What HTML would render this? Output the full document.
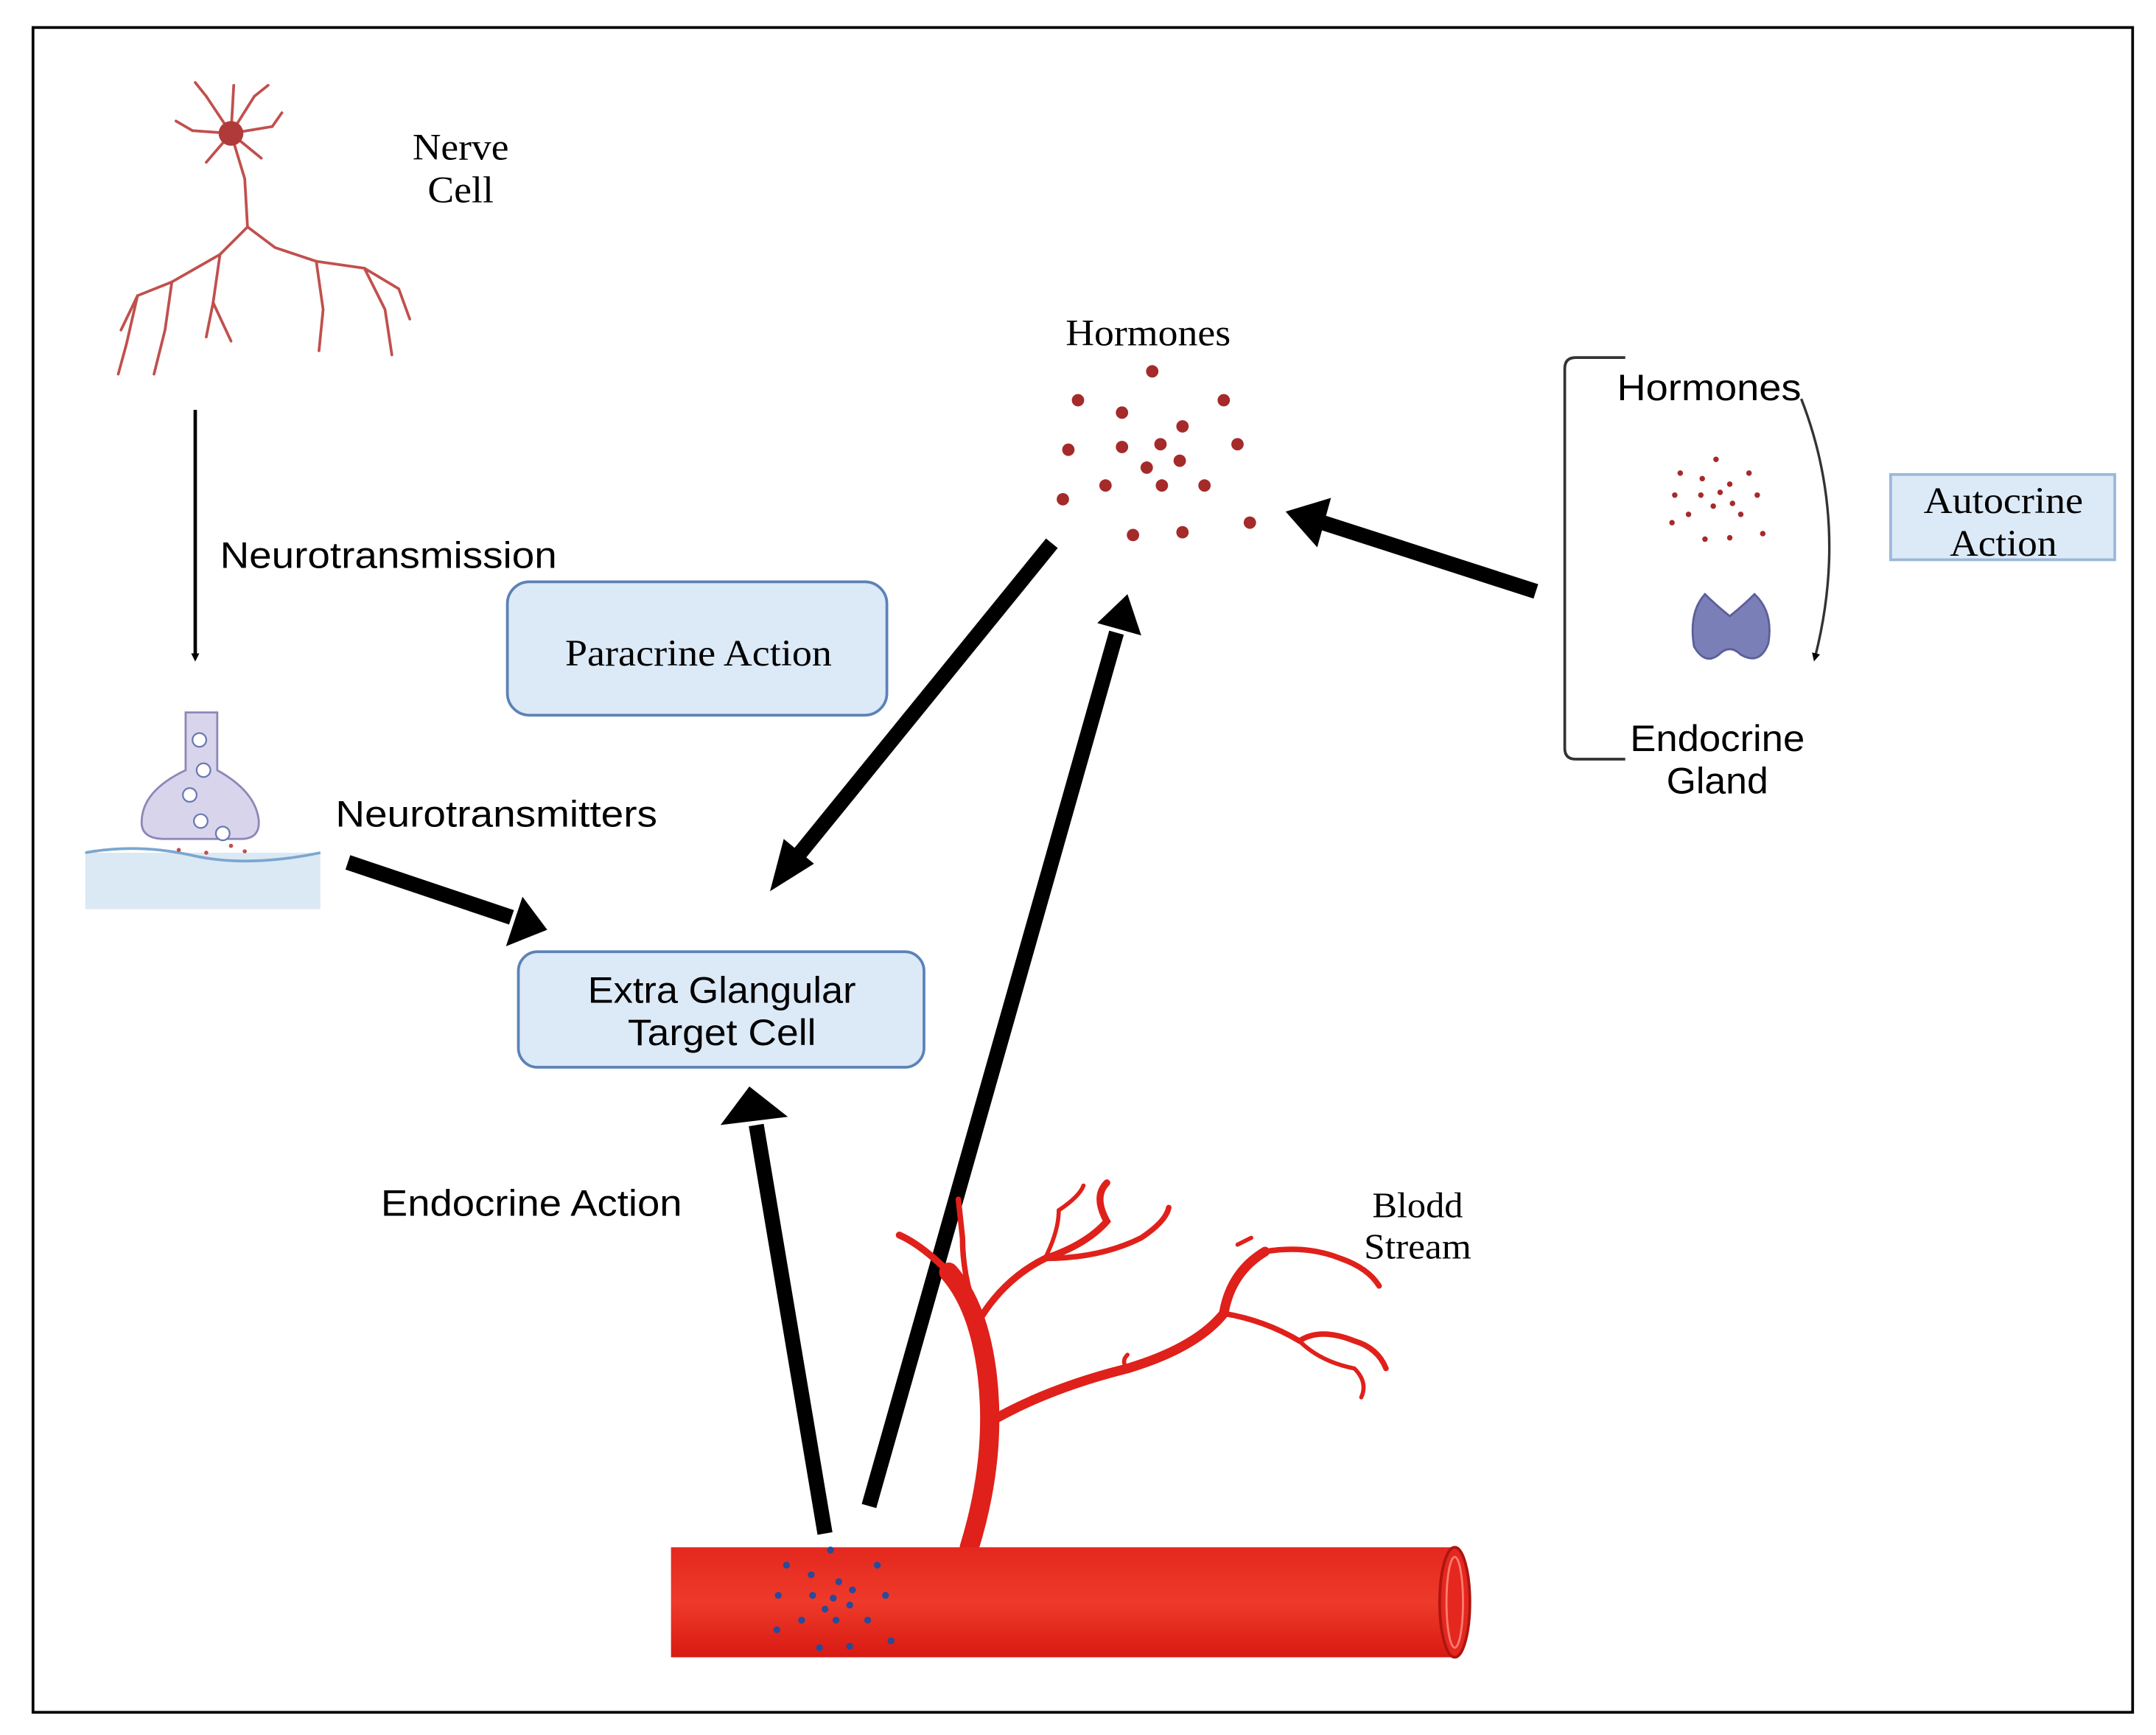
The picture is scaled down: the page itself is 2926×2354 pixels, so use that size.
<!DOCTYPE html>
<html><head><meta charset="utf-8"><style>
html,body{margin:0;padding:0;background:#fff;}
svg{display:block;}
.s{font-family:"Liberation Sans",sans-serif;}
.r{font-family:"Liberation Serif",serif;}
</style></head><body>
<svg width="2926" height="2354" viewBox="0 0 1568 1261.5" preserveAspectRatio="none" xmlns="http://www.w3.org/2000/svg">
<defs>
<marker id="th" markerWidth="6" markerHeight="6" refX="3" refY="3" orient="auto" markerUnits="userSpaceOnUse" viewBox="0 0 6 6"><path d="M0,0 L6,3 L0,6 z" fill="#000"/></marker>
<linearGradient id="vg" x1="0" y1="0" x2="0" y2="1"><stop offset="0" stop-color="#e4281f"/><stop offset="0.5" stop-color="#ee3a2a"/><stop offset="1" stop-color="#d81a12"/></linearGradient>
</defs>
<rect x="24" y="20" width="1527" height="1225" fill="#fff" stroke="#000" stroke-width="2"/>

<!-- Nerve cell -->
<g stroke="#c0504d" fill="none" stroke-width="2" stroke-linecap="round">
<path d="M168,97 L178,130 L180,165 L160,185 L125,205 L100,215 L88,240"/>
<path d="M180,165 L200,180 L230,190 L265,195 L290,210 L298,232"/>
<path d="M160,185 L155,220 L150,245"/>
<path d="M230,190 L235,225 L232,255"/>
<path d="M125,205 L120,240 L112,272"/>
<path d="M265,195 L280,225 L285,258"/>
<path d="M100,215 L92,250 L86,272"/>
<path d="M155,220 L168,248"/>
<path d="M168,97 L150,70 M168,97 L185,70 M168,97 L140,95 M168,97 L198,92 M168,97 L150,118 M168,97 L190,115 M168,97 L170,62"/>
<path d="M150,70 L142,60 M185,70 L195,62 M140,95 L128,88 M198,92 L205,82"/>
</g>
<circle cx="168" cy="97" r="9" fill="#b03a3a"/>
<text x="335" y="116" class="r" font-size="27" text-anchor="middle" textLength="70" lengthAdjust="spacingAndGlyphs">Nerve</text>
<text x="335" y="147" class="r" font-size="27" text-anchor="middle" textLength="48" lengthAdjust="spacingAndGlyphs">Cell</text>

<line x1="142" y1="298" x2="142" y2="478" stroke="#000" stroke-width="2.5" marker-end="url(#th)"/>
<text x="160" y="413" class="s" font-size="27" textLength="245" lengthAdjust="spacingAndGlyphs">Neurotransmission</text>

<!-- synapse -->
<rect x="62" y="620" width="171" height="41" fill="#dbe9f5"/>
<path d="M62,620 Q100,613 140,622 T233,620" stroke="#7aa7d0" stroke-width="2" fill="none"/>
<path d="M135,518 L135,560 Q103,575 103,598 Q103,610 120,610 L175,610 Q190,610 188,595 Q185,575 158,560 L158,518 Z" fill="#d7d4ec" stroke="#8c88b8" stroke-width="1.5"/>
<g fill="#fff" stroke="#6a78b0" stroke-width="1.2"><circle cx="145" cy="538" r="5"/><circle cx="148" cy="560" r="5"/><circle cx="138" cy="578" r="5"/><circle cx="146" cy="597" r="5"/><circle cx="162" cy="606" r="5"/></g>
<g fill="#c0504d"><circle cx="130" cy="618" r="1.5"/><circle cx="150" cy="620" r="1.5"/><circle cx="168" cy="615" r="1.5"/><circle cx="178" cy="619" r="1.5"/></g>

<text x="244" y="601" class="s" font-size="27" textLength="234" lengthAdjust="spacingAndGlyphs">Neurotransmitters</text>

<rect x="369" y="423" width="276" height="97" rx="16" fill="#dce9f7" stroke="#5b82b6" stroke-width="2"/>
<text x="508" y="484" class="r" font-size="27" text-anchor="middle" textLength="194" lengthAdjust="spacingAndGlyphs">Paracrine Action</text>

<rect x="377" y="692" width="295" height="84" rx="14" fill="#dce9f7" stroke="#5b82b6" stroke-width="2"/>
<text x="525" y="729" class="s" font-size="27" text-anchor="middle" textLength="195" lengthAdjust="spacingAndGlyphs">Extra Glangular</text>
<text x="525" y="760" class="s" font-size="27" text-anchor="middle" textLength="137" lengthAdjust="spacingAndGlyphs">Target Cell</text>

<!-- Thick arrows -->
<g fill="#000">
<line x1="253" y1="627" x2="372" y2="667" stroke="#000" stroke-width="11"/>
<polygon points="398,676 368,688 380,652"/>
<line x1="765" y1="395" x2="578" y2="625" stroke="#000" stroke-width="11"/>
<polygon points="560,648 570,610 592,628"/>
<line x1="632" y1="1095" x2="812" y2="460" stroke="#000" stroke-width="11"/>
<polygon points="820,432 830,462 798,453"/>
<line x1="600" y1="1115" x2="550" y2="818" stroke="#000" stroke-width="11"/>
<polygon points="545,790 573,812 524,818"/>
<line x1="1117" y1="430" x2="962" y2="380" stroke="#000" stroke-width="11"/>
<polygon points="935,372 968,362 958,398"/>
</g>

<text x="835" y="251" class="r" font-size="27" text-anchor="middle" textLength="120" lengthAdjust="spacingAndGlyphs">Hormones</text>
<g fill="#a52a2a">
<circle cx="838" cy="270" r="4.5"/><circle cx="784" cy="291" r="4.5"/><circle cx="816" cy="300" r="4.5"/><circle cx="890" cy="291" r="4.5"/><circle cx="860" cy="310" r="4.5"/><circle cx="777" cy="327" r="4.5"/><circle cx="816" cy="325" r="4.5"/><circle cx="844" cy="323" r="4.5"/><circle cx="900" cy="323" r="4.5"/><circle cx="834" cy="340" r="4.5"/><circle cx="858" cy="335" r="4.5"/><circle cx="804" cy="353" r="4.5"/><circle cx="845" cy="353" r="4.5"/><circle cx="876" cy="353" r="4.5"/><circle cx="773" cy="363" r="4.5"/><circle cx="824" cy="389" r="4.5"/><circle cx="860" cy="387" r="4.5"/><circle cx="909" cy="380" r="4.5"/>
</g>

<!-- Bracket & gland -->
<path d="M1182,260 L1146,260 Q1138,260 1138,268 L1138,544 Q1138,552 1146,552 L1182,552" fill="none" stroke="#333" stroke-width="2"/>
<text x="1243" y="291" class="s" font-size="27" text-anchor="middle" textLength="134" lengthAdjust="spacingAndGlyphs">Hormones</text>
<g fill="#a52a2a">
<circle cx="1248" cy="334" r="2"/><circle cx="1222" cy="344" r="2"/><circle cx="1238" cy="348" r="2"/><circle cx="1272" cy="344" r="2"/><circle cx="1258" cy="352" r="2"/><circle cx="1218" cy="360" r="2"/><circle cx="1237" cy="360" r="2"/><circle cx="1251" cy="358" r="2"/><circle cx="1278" cy="360" r="2"/><circle cx="1246" cy="368" r="2"/><circle cx="1260" cy="366" r="2"/><circle cx="1228" cy="374" r="2"/><circle cx="1266" cy="374" r="2"/><circle cx="1216" cy="380" r="2"/><circle cx="1240" cy="392" r="2"/><circle cx="1258" cy="391" r="2"/><circle cx="1282" cy="388" r="2"/>
</g>
<path d="M1240,432 Q1228,445 1232,470 Q1240,484 1250,476 Q1258,468 1266,476 Q1280,484 1286,468 Q1290,445 1276,432 Q1268,440 1258,448 Q1248,440 1240,432 Z" fill="#7a7fb8" stroke="#5c5f99" stroke-width="1.5"/>
<path d="M1310,290 Q1345,380 1320,478" fill="none" stroke="#333" stroke-width="1.8" marker-end="url(#th)"/>
<text x="1249" y="546" class="s" font-size="27" text-anchor="middle" textLength="127" lengthAdjust="spacingAndGlyphs">Endocrine</text>
<text x="1249" y="577" class="s" font-size="27" text-anchor="middle" textLength="74" lengthAdjust="spacingAndGlyphs">Gland</text>

<rect x="1375" y="345" width="163" height="62" fill="#dce9f7" stroke="#9bb7da" stroke-width="2"/>
<text x="1457" y="373" class="r" font-size="27" text-anchor="middle" textLength="116" lengthAdjust="spacingAndGlyphs">Autocrine</text>
<text x="1457" y="404" class="r" font-size="27" text-anchor="middle" textLength="78" lengthAdjust="spacingAndGlyphs">Action</text>

<text x="277" y="884" class="s" font-size="27" textLength="219" lengthAdjust="spacingAndGlyphs">Endocrine Action</text>

<!-- Blood vessel branches -->
<g stroke="#e0201a" fill="none" stroke-linecap="round">
<path d="M705,1125 Q725,1060 718,1000 Q712,950 690,925" stroke-width="14"/>
<path d="M718,1035 Q760,1010 820,995 Q870,980 890,955 Q895,925 920,910" stroke-width="7"/>
<path d="M690,925 Q670,905 654,898" stroke-width="5"/>
<path d="M712,960 Q730,930 760,915 Q790,905 805,888 Q795,870 805,860" stroke-width="5"/>
<path d="M760,915 Q800,915 830,900 Q848,888 850,878" stroke-width="4"/>
<path d="M712,960 Q700,930 700,900 L697,872" stroke-width="4"/>
<path d="M760,915 Q770,895 770,880 Q785,870 788,862" stroke-width="3"/>
<path d="M890,955 Q920,960 945,975 Q960,965 985,975 Q1002,980 1008,995" stroke-width="4"/>
<path d="M945,975 Q960,990 985,995 Q995,1005 990,1016" stroke-width="3"/>
<path d="M920,910 Q950,905 975,915 Q995,922 1003,935" stroke-width="4"/>
<path d="M900,905 L910,900" stroke-width="3"/>
<path d="M820,995 Q815,990 820,985" stroke-width="3"/>
</g>
<rect x="488" y="1125" width="572" height="80" fill="url(#vg)"/>
<ellipse cx="1058" cy="1165" rx="11" ry="40" fill="#e4281f" stroke="#b01410" stroke-width="2"/>
<ellipse cx="1058" cy="1165" rx="6" ry="33" fill="none" stroke="#ff7b70" stroke-width="1.5"/>
<g fill="#2a4a9a">
<circle cx="604" cy="1127" r="2.5"/><circle cx="572" cy="1138" r="2.5"/><circle cx="590" cy="1145" r="2.5"/><circle cx="638" cy="1138" r="2.5"/><circle cx="610" cy="1150" r="2.5"/><circle cx="566" cy="1160" r="2.5"/><circle cx="591" cy="1160" r="2.5"/><circle cx="606" cy="1162" r="2.5"/><circle cx="620" cy="1156" r="2.5"/><circle cx="644" cy="1160" r="2.5"/><circle cx="600" cy="1170" r="2.5"/><circle cx="618" cy="1167" r="2.5"/><circle cx="583" cy="1178" r="2.5"/><circle cx="608" cy="1178" r="2.5"/><circle cx="631" cy="1178" r="2.5"/><circle cx="565" cy="1185" r="2.5"/><circle cx="596" cy="1198" r="2.5"/><circle cx="618" cy="1197" r="2.5"/><circle cx="648" cy="1193" r="2.5"/>
</g>
<text x="1031" y="885" class="r" font-size="26" text-anchor="middle" textLength="66" lengthAdjust="spacingAndGlyphs">Blodd</text>
<text x="1031" y="915" class="r" font-size="26" text-anchor="middle" textLength="78" lengthAdjust="spacingAndGlyphs">Stream</text>
</svg>
</body></html>
